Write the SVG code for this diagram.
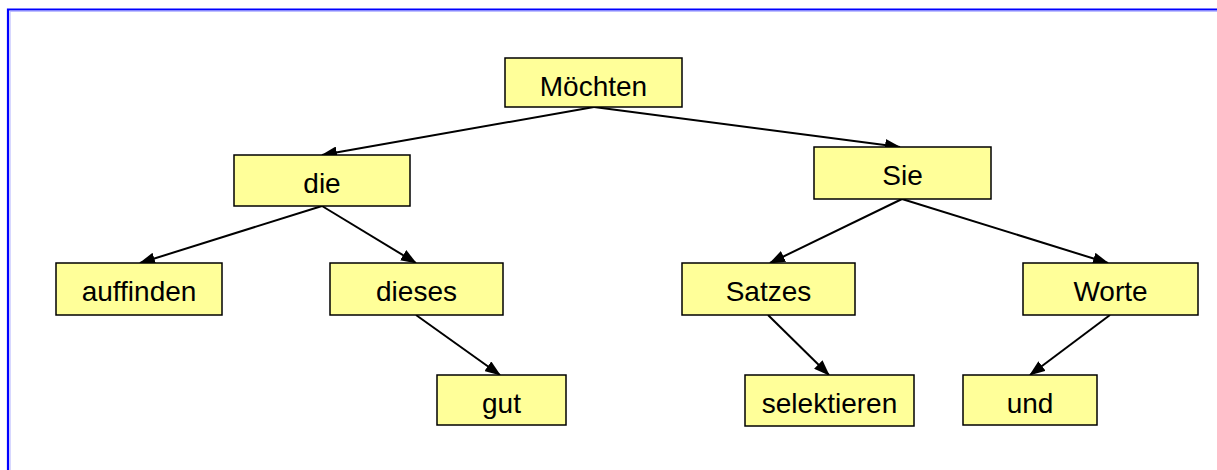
<svg xmlns="http://www.w3.org/2000/svg" width="1217" height="470" viewBox="0 0 1217 470">
<style>
.box{fill:#ffff99;stroke:#000;stroke-width:1.5}
.lbl{font-family:"Liberation Sans",Arial,sans-serif;font-size:28px;fill:#000;text-anchor:middle}
.edge{stroke:#000;stroke-width:2;fill:none;marker-end:url(#arr)}
</style>
<defs>
<marker id="arr" markerWidth="16" markerHeight="12" refX="15" refY="6" orient="auto" markerUnits="userSpaceOnUse">
<path d="M0,0 L16,6 L0,12 z" fill="#000"/>
</marker>
</defs>
<rect width="1217" height="470" fill="#fff"/>
<path d="M8,470 V9.5 H1217" fill="none" stroke="#0000ff" stroke-width="2.2"/>
<path d="M10,470 V11.3 H1217" fill="none" stroke="#b0b0ff" stroke-width="1"/>
<g id="connectors">
<line class="edge" x1="594" y1="107" x2="322" y2="155"/>
<line class="edge" x1="594" y1="107" x2="900" y2="147"/>
<line class="edge" x1="322" y1="206" x2="140" y2="263"/>
<line class="edge" x1="322" y1="206" x2="416" y2="263"/>
<line class="edge" x1="416" y1="315" x2="500" y2="375"/>
<line class="edge" x1="902" y1="199" x2="770" y2="263"/>
<line class="edge" x1="902" y1="199" x2="1108" y2="263"/>
<line class="edge" x1="768" y1="315" x2="829" y2="375"/>
<line class="edge" x1="1110" y1="315" x2="1030" y2="375"/>
</g>
<g id="n_moechten"><rect class="box" x="505" y="58" width="177" height="49"/><text class="lbl" x="593.5" y="96">Möchten</text></g>
<g id="n_die"><rect class="box" x="234" y="155" width="176" height="51"/><text class="lbl" x="322" y="193">die</text></g>
<g id="n_sie"><rect class="box" x="814" y="147" width="177" height="52"/><text class="lbl" x="902.5" y="185">Sie</text></g>
<g id="n_auffinden"><rect class="box" x="56" y="263" width="166" height="52"/><text class="lbl" x="139" y="301">auffinden</text></g>
<g id="n_dieses"><rect class="box" x="330" y="263" width="173" height="52"/><text class="lbl" x="416.5" y="301">dieses</text></g>
<g id="n_satzes"><rect class="box" x="682" y="263" width="173" height="52"/><text class="lbl" x="768.5" y="301">Satzes</text></g>
<g id="n_worte"><rect class="box" x="1023" y="263" width="175" height="52"/><text class="lbl" x="1110.5" y="301">Worte</text></g>
<g id="n_gut"><rect class="box" x="437" y="375" width="129" height="50"/><text class="lbl" x="501.5" y="413">gut</text></g>
<g id="n_selektieren"><rect class="box" x="745" y="375" width="169" height="51"/><text class="lbl" x="829.5" y="413">selektieren</text></g>
<g id="n_und"><rect class="box" x="963" y="375" width="134" height="50"/><text class="lbl" x="1030" y="413">und</text></g>
</svg>
